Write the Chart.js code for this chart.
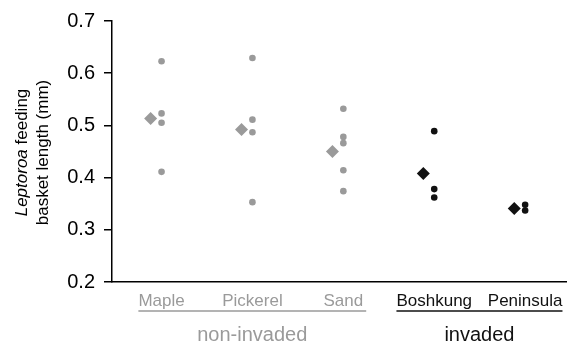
<!DOCTYPE html>
<html>
<head>
<meta charset="utf-8">
<script src="https://cdn.jsdelivr.net/npm/chart.js@4"></script>
<style>
  html, body { margin: 0; padding: 0; background: #fff; }
</style>
</head>
<body>
<canvas id="chart" width="573" height="347"></canvas>
<script>
const sites = ['Maple', 'Pickerel', 'Sand', 'Boshkung', 'Peninsula'];
const invaded = [false, false, false, true, true];
const lengths = [
    [0.623, 0.523, 0.505, 0.411],
    [0.629, 0.511, 0.487, 0.353],
    [0.532, 0.478, 0.466, 0.414, 0.374],
    [0.489, 0.378, 0.362],
    [0.348, 0.337]
];
const means = [0.513, 0.492, 0.450, 0.408, 0.341];
const yTicks = [0.2, 0.3, 0.4, 0.5, 0.6, 0.7];
const groupNames = ['non-invaded', 'invaded'];

const GREY = '#9a9a9a';
const BLACK = '#111111';
const FONT = "'Liberation Sans', Arial, sans-serif";

const siteColor = i => invaded[i] ? BLACK : GREY;

// individual measurements at the site position, means shifted a bit to the left
const pointData = [];
const pointColors = [];
lengths.forEach((vals, i) => {
    vals.forEach(v => {
        pointData.push({ x: i, y: v });
        pointColors.push(siteColor(i));
    });
});
const meanData = means.map((v, i) => ({ x: i - 0.12, y: v }));
const meanColors = means.map((v, i) => siteColor(i));

// y axis title with italic genus name
const yTitle = {
    id: 'yTitle',
    afterDraw(chart) {
        const ctx = chart.ctx;
        const cy = (chart.chartArea.top + chart.chartArea.bottom) / 2 + 1;
        ctx.save();
        ctx.translate(32.5, cy);
        ctx.rotate(-Math.PI / 2);
        ctx.fillStyle = '#000';
        ctx.textBaseline = 'middle';
        ctx.textAlign = 'left';
        const it = 'italic 17px ' + FONT;
        const nm = '17px ' + FONT;
        ctx.font = it;
        const w1 = ctx.measureText('Leptoroa').width;
        ctx.font = nm;
        const w2 = ctx.measureText(' feeding').width;
        let x = -(w1 + w2) / 2;
        ctx.font = it;
        ctx.fillText('Leptoroa', x, -10.5);
        ctx.font = nm;
        ctx.fillText(' feeding', x + w1, -10.5);
        ctx.textAlign = 'center';
        ctx.fillText('basket length (mm)', 0, 10.5);
        ctx.restore();
    }
};

// group brackets under the site labels
const groupLines = {
    id: 'groupLines',
    afterDraw(chart) {
        const ctx = chart.ctx;
        const xs = chart.scales.x;
        ctx.save();
        ctx.font = '17px ' + FONT;
        const ext = sites.map((s, i) => {
            const w = ctx.measureText(s).width;
            const c = xs.getPixelForValue(i);
            return [c - w / 2, c + w / 2];
        });
        const spans = [[ext[0][0], ext[2][1] + 3], [ext[3][0], ext[4][1]]];
        const cols = [GREY, BLACK];
        spans.forEach((sp, g) => {
            ctx.strokeStyle = cols[g];
            ctx.lineWidth = 1.3;
            ctx.beginPath();
            ctx.moveTo(sp[0], 311);
            ctx.lineTo(sp[1], 311);
            ctx.stroke();
            ctx.fillStyle = cols[g];
            ctx.font = '20px ' + FONT;
            ctx.textAlign = 'center';
            ctx.textBaseline = 'alphabetic';
            ctx.fillText(groupNames[g], (sp[0] + sp[1]) / 2, 341);
        });
        ctx.restore();
    }
};

const config = {
    type: 'scatter',
    data: {
        datasets: [{
            label: 'measurements',
            data: pointData,
            pointStyle: 'circle',
            pointRadius: 3.3,
            pointBorderWidth: 0,
            pointBackgroundColor: pointColors,
            pointBorderColor: pointColors
        }, {
            label: 'mean',
            data: meanData,
            pointStyle: 'rectRot',
            pointRadius: 6.5,
            pointBorderWidth: 0,
            pointBackgroundColor: meanColors,
            pointBorderColor: meanColors
        }]
    },
    options: {
        responsive: false,
        animation: false,
        layout: { padding: { top: 19, right: 1, left: 0, bottom: 0 } },
        plugins: {
            legend: { display: false },
            tooltip: { enabled: false }
        },
        scales: {
            x: {
                type: 'linear',
                min: -0.545,
                max: 4.455,
                afterBuildTicks: s => { s.ticks = sites.map((n, i) => ({ value: i })); },
                afterFit: s => { s.height = 65; },
                grid: { display: false, drawTicks: false },
                border: { display: true, color: '#000', width: 1.5 },
                ticks: {
                    padding: 9,
                    maxRotation: 0,
                    autoSkip: false,
                    font: { family: FONT, size: 17 },
                    color: c => siteColor(c.index),
                    callback: v => sites[v]
                }
            },
            y: {
                min: 0.2,
                max: 0.7,
                afterBuildTicks: s => { s.ticks = yTicks.map(v => ({ value: v })); },
                afterFit: s => { s.width = 112; },
                grid: {
                    drawOnChartArea: false,
                    drawTicks: true,
                    tickLength: 8,
                    color: '#000',
                    lineWidth: 1.5
                },
                border: { display: true, color: '#000', width: 1.5 },
                ticks: {
                    padding: 9,
                    font: { family: FONT, size: 20 },
                    color: '#000',
                    callback: v => v.toFixed(1)
                }
            }
        }
    },
    plugins: [yTitle, groupLines]
};

const myChart = new Chart(document.getElementById('chart'), config);
</script>
</body>
</html>
